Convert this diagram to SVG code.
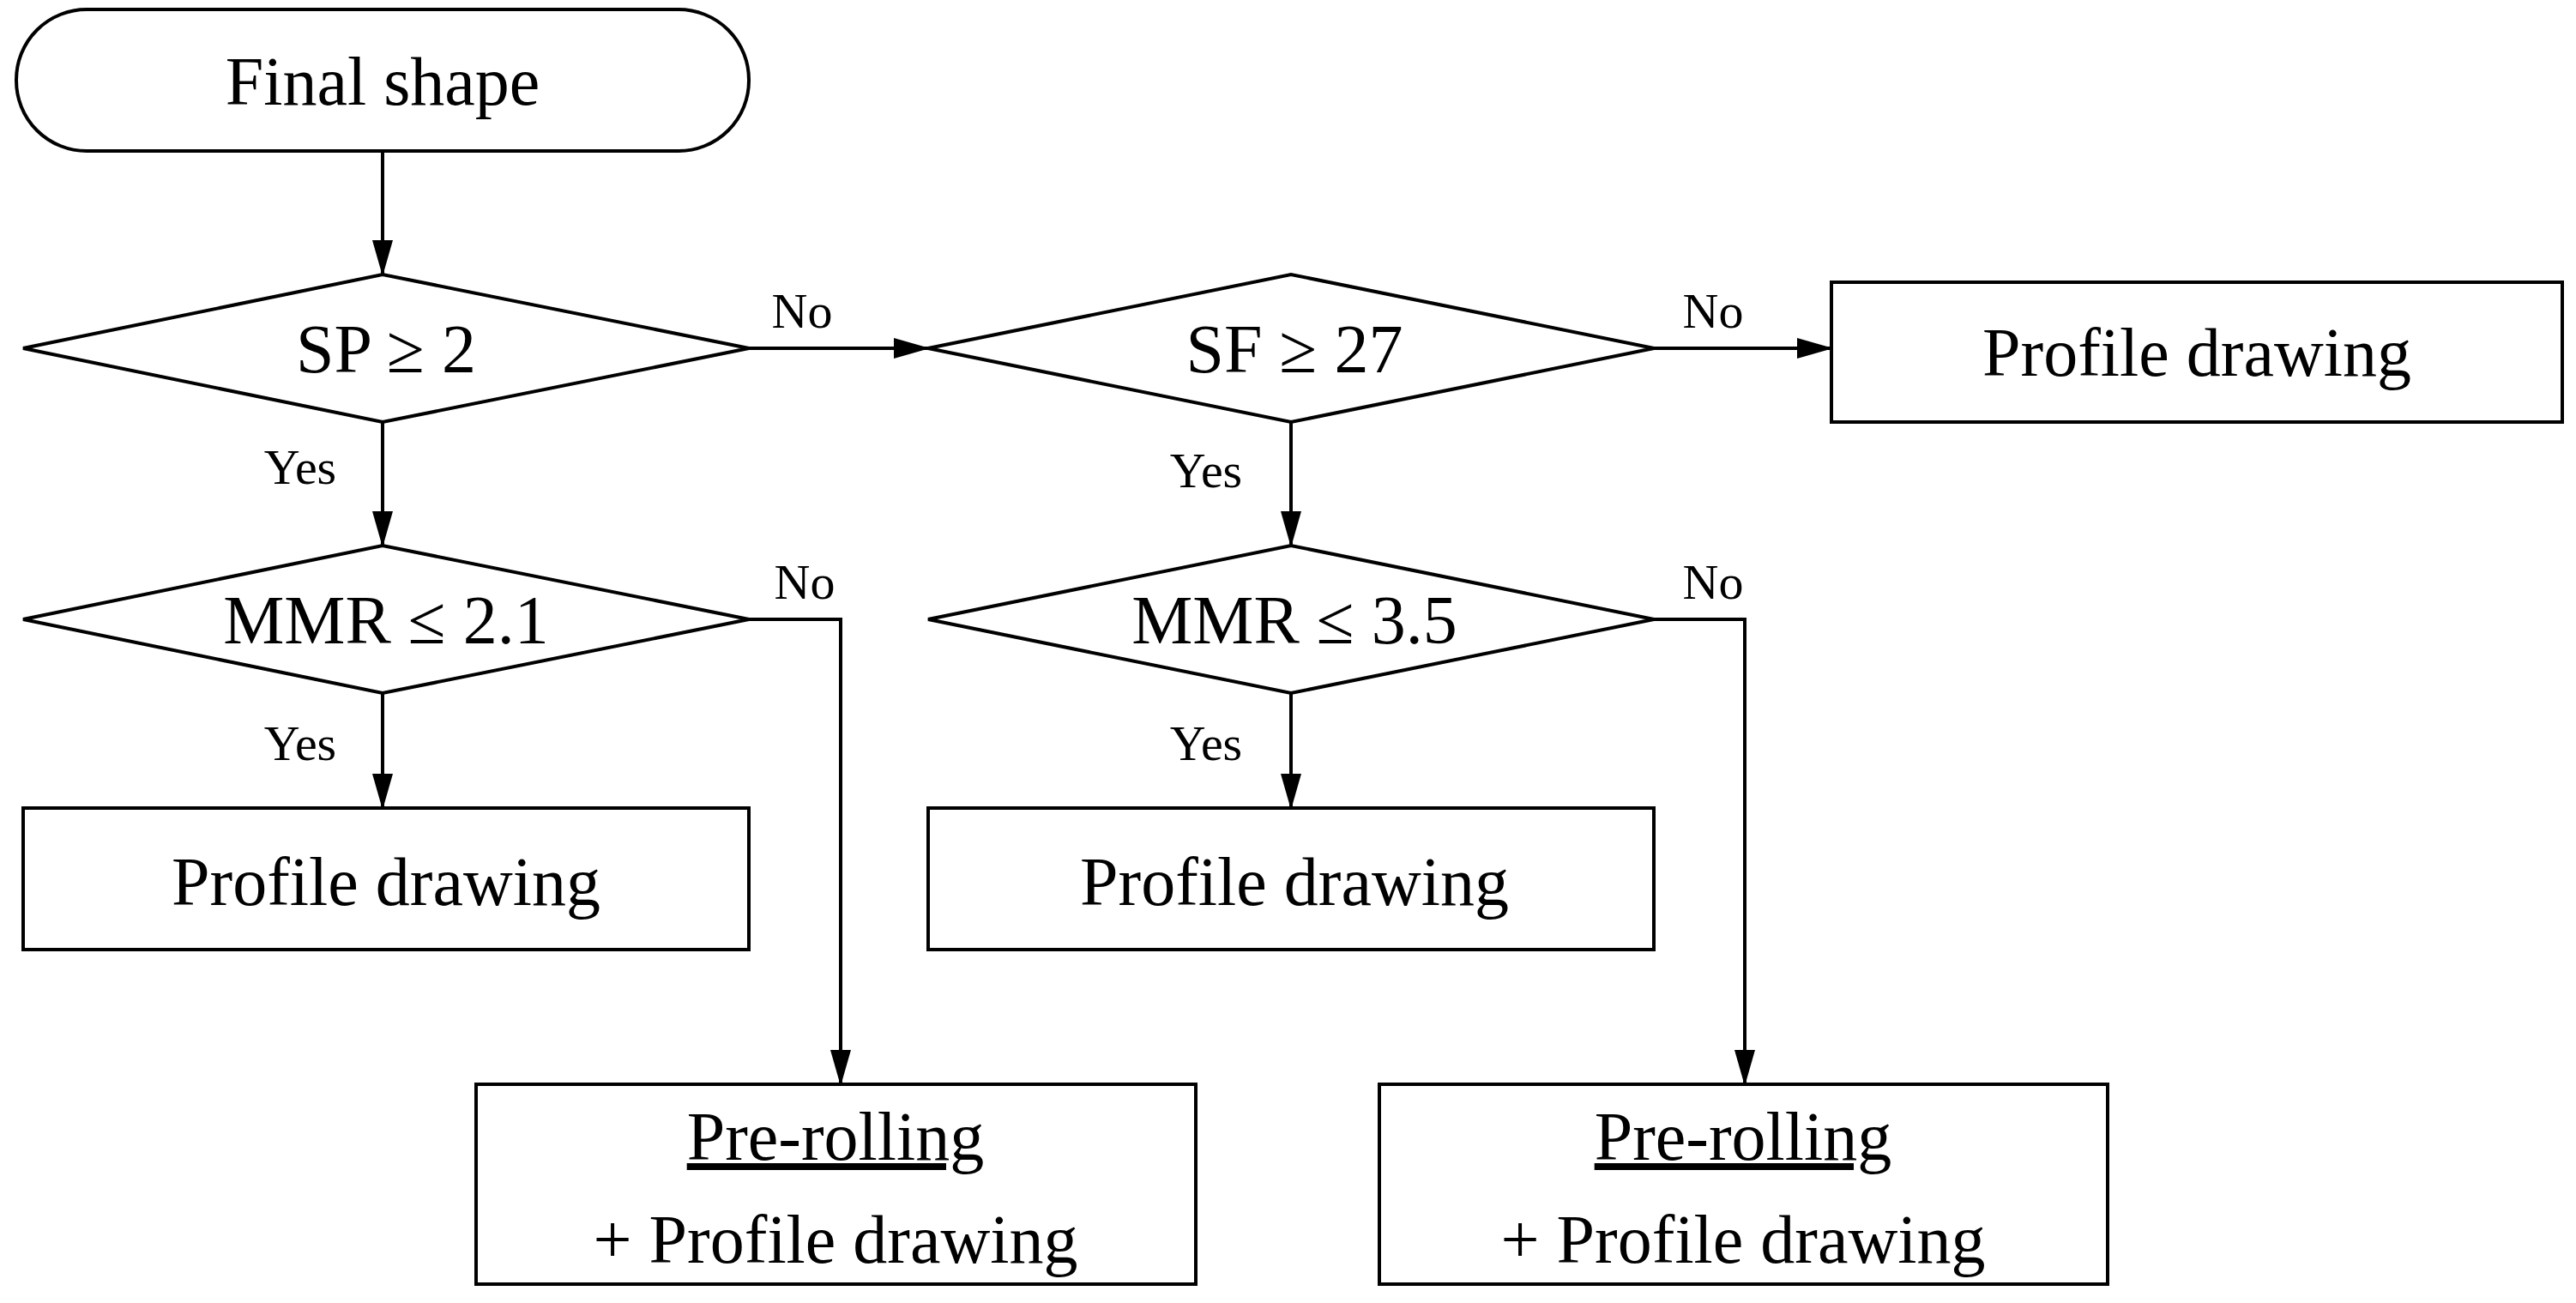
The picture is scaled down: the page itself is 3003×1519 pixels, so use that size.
<svg xmlns="http://www.w3.org/2000/svg" width="3003" height="1519" viewBox="0 0 3003 1519">
<style>
.s{fill:#fff;stroke:#000;stroke-width:4}
.t{font-family:"Liberation Serif",serif;font-size:80px;text-anchor:middle;fill:#000}
.l{font-family:"Liberation Serif",serif;font-size:58px;text-anchor:middle;fill:#000}
.c{fill:none;stroke:#000;stroke-width:4}
</style>
<defs><marker id="a" markerWidth="12" markerHeight="12" refX="11" refY="6" orient="auto" markerUnits="userSpaceOnUse" viewBox="0 0 12 12"><path d="M0,0 L12,6 L0,12 z" fill="#000"/></marker>
<marker id="b" markerWidth="42" markerHeight="42" refX="40" refY="12" orient="auto" markerUnits="userSpaceOnUse" viewBox="0 0 42 24"><path d="M0,0 L42,12 L0,24 z" fill="#000"/></marker></defs>
<g id="n1"><rect class="s" x="19" y="11" width="854" height="165" rx="82"/><text class="t" x="446" y="122">Final shape</text></g>
<g id="n2"><polygon class="s" points="27,406 446,320 873,406 446,492"/><text class="t" x="450" y="434">SP ≥ 2</text></g>
<g id="n3"><polygon class="s" points="1082,406 1505,320 1928,406 1505,492"/><text class="t" x="1509" y="434">SF ≥ 27</text></g>
<g id="n4"><rect class="s" x="2135" y="329" width="852" height="163"/><text class="t" x="2561" y="438">Profile drawing</text></g>
<g id="n5"><polygon class="s" points="27,722 446,636 873,722 446,808"/><text class="t" x="450" y="750">MMR ≤ 2.1</text></g>
<g id="n6"><polygon class="s" points="1082,722 1505,636 1928,722 1505,808"/><text class="t" x="1509" y="750">MMR ≤ 3.5</text></g>
<g id="n7"><rect class="s" x="27" y="942" width="846" height="165"/><text class="t" x="450" y="1055">Profile drawing</text></g>
<g id="n8"><rect class="s" x="1082" y="942" width="846" height="165"/><text class="t" x="1509" y="1055">Profile drawing</text></g>
<g id="n9"><rect class="s" x="555" y="1264" width="839" height="233"/><text class="t" x="974" y="1352" text-decoration="underline">Pre-rolling</text><text class="t" x="974" y="1472">+ Profile drawing</text></g>
<g id="n10"><rect class="s" x="1608" y="1264" width="849" height="233"/><text class="t" x="2032" y="1352" text-decoration="underline">Pre-rolling</text><text class="t" x="2032" y="1472">+ Profile drawing</text></g>
<g id="connectors">
<path class="c" d="M446,176 V320" marker-end="url(#b)"/>
<path class="c" d="M873,406 H1082" marker-end="url(#b)"/>
<path class="c" d="M1928,406 H2135" marker-end="url(#b)"/>
<path class="c" d="M446,492 V636" marker-end="url(#b)"/>
<path class="c" d="M1505,492 V636" marker-end="url(#b)"/>
<path class="c" d="M446,808 V942" marker-end="url(#b)"/>
<path class="c" d="M1505,808 V942" marker-end="url(#b)"/>
<path class="c" d="M873,722 H980 V1264" marker-end="url(#b)"/>
<path class="c" d="M1928,722 H2034 V1264" marker-end="url(#b)"/>
<text class="l" x="935" y="382">No</text>
<text class="l" x="1997" y="382">No</text>
<text class="l" x="350" y="564">Yes</text>
<text class="l" x="1406" y="568">Yes</text>
<text class="l" x="938" y="698">No</text>
<text class="l" x="1997" y="698">No</text>
<text class="l" x="350" y="886">Yes</text>
<text class="l" x="1406" y="886">Yes</text>
</g>
</svg>
